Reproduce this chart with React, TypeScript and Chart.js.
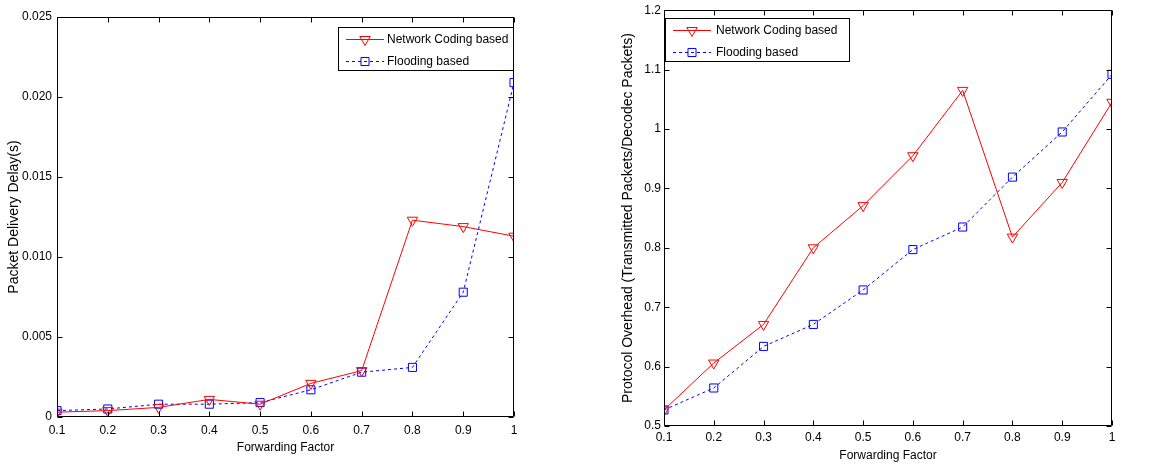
import React, { useEffect, useRef } from "react";
import { Chart, registerables } from "chart.js";

Chart.register(...registerables);

// ---- data ----
const forwardingFactor = [0.1, 0.2, 0.3, 0.4, 0.5, 0.6, 0.7, 0.8, 0.9, 1.0];
const xTickLabels = ["0.1", "0.2", "0.3", "0.4", "0.5", "0.6", "0.7", "0.8", "0.9", "1"];

const delayNetworkCoding = [0.0003, 0.0004, 0.0006, 0.0011, 0.0008, 0.0021, 0.0029, 0.0123, 0.0119, 0.0113];
const delayFlooding = [0.0004, 0.0005, 0.0008, 0.0008, 0.0009, 0.0017, 0.0028, 0.0031, 0.0078, 0.0209];
const delayTicks = [0, 0.005, 0.01, 0.015, 0.02, 0.025];
const delayTickLabels = ["0", "0.005", "0.010", "0.015", "0.020", "0.025"];

const overheadNetworkCoding = [0.527, 0.606, 0.671, 0.8, 0.871, 0.955, 1.065, 0.818, 0.91, 1.045];
const overheadFlooding = [0.527, 0.564, 0.634, 0.671, 0.729, 0.797, 0.835, 0.919, 0.995, 1.092];
const overheadTicks = [0.5, 0.6, 0.7, 0.8, 0.9, 1.0, 1.1, 1.2];
const overheadTickLabels = ["0.5", "0.6", "0.7", "0.8", "0.9", "1", "1.1", "1.2"];

const seriesLabels = ["Network Coding based", "Flooding based"];

// ---- styling ----
const FONT = '"Liberation Sans", Arial, Helvetica, sans-serif';
const tickFont = { family: FONT, size: 12 };
const vTitleFont = { family: FONT, size: 14 };
const RED = "#ff0000";
const BLUE = "#0000ff";

function drawMarker(ctx: CanvasRenderingContext2D, style: string, x: number, y: number, r: number, color: string) {
  ctx.save();
  ctx.setLineDash([]);
  ctx.strokeStyle = color;
  ctx.lineWidth = 1;
  ctx.beginPath();
  if (style === "triangle") {
    const h = r * 0.866;
    ctx.moveTo(x - h, y - r / 2);
    ctx.lineTo(x + h, y - r / 2);
    ctx.lineTo(x, y + r);
    ctx.closePath();
  } else {
    const s = r * Math.SQRT1_2;
    ctx.rect(x - s, y - s, 2 * s, 2 * s);
  }
  ctx.stroke();
  ctx.restore();
}

const framePlugin = {
  id: "matlabFrame",
  afterDatasetsDraw(chart: any) {
    const { ctx, chartArea, scales } = chart;
    const L = Math.round(chartArea.left) + 0.5;
    const R = Math.round(chartArea.right) - 0.5;
    const T = Math.round(chartArea.top) + 0.5;
    const B = Math.round(chartArea.bottom) - 0.5;
    const tl = 5;
    ctx.save();
    ctx.strokeStyle = "#000";
    ctx.lineWidth = 1;
    ctx.setLineDash([]);
    ctx.beginPath();
    ctx.rect(L, T, R - L, B - T);
    for (const t of scales.x.ticks) {
      const px = Math.round(scales.x.getPixelForValue(t.value)) + 0.5;
      ctx.moveTo(px, B);
      ctx.lineTo(px, B - tl);
      ctx.moveTo(px, T);
      ctx.lineTo(px, T + tl);
    }
    for (const t of scales.y.ticks) {
      const py = Math.round(scales.y.getPixelForValue(t.value)) + 0.5;
      ctx.moveTo(L, py);
      ctx.lineTo(L + tl, py);
      ctx.moveTo(R, py);
      ctx.lineTo(R - tl, py);
    }
    ctx.stroke();
    ctx.restore();
  },
};

const boxLegendPlugin = {
  id: "boxLegend",
  afterDraw(chart: any, _args: any, opts: any) {
    const { ctx, chartArea } = chart;
    const w = opts.width;
    const h = opts.height;
    const left = Math.round(opts.anchor === "right" ? chartArea.right - w : chartArea.left + opts.dx);
    const top = Math.round(chartArea.top + opts.dy);
    ctx.save();
    ctx.fillStyle = "#fff";
    ctx.fillRect(left, top, w, h);
    ctx.strokeStyle = "#000";
    ctx.lineWidth = 1;
    ctx.setLineDash([]);
    ctx.strokeRect(left + 0.5, top + 0.5, w - 1, h - 1);
    const rows = [12.5, 34.5];
    chart.data.datasets.forEach((ds: any, i: number) => {
      const y = top + rows[i];
      ctx.strokeStyle = ds.borderColor;
      ctx.lineWidth = 1;
      ctx.setLineDash(ds.borderDash || []);
      ctx.beginPath();
      ctx.moveTo(left + 8, y);
      ctx.lineTo(left + 46, y);
      ctx.stroke();
      drawMarker(ctx, ds.pointStyle, left + 27, y, ds.pointRadius, ds.borderColor);
      ctx.fillStyle = "#000";
      ctx.font = `12px ${FONT}`;
      ctx.textBaseline = "middle";
      ctx.textAlign = "left";
      ctx.fillText(ds.label, left + opts.textX, y);
    });
    ctx.restore();
  },
};

function makeDatasets(a: number[], b: number[]) {
  return [
    {
      label: seriesLabels[0],
      data: forwardingFactor.map((x, i) => ({ x, y: a[i] })),
      borderColor: RED,
      backgroundColor: "rgba(0,0,0,0)",
      borderWidth: 1,
      pointStyle: "triangle",
      rotation: 180,
      pointRadius: 6,
      pointBorderWidth: 1,
      pointBackgroundColor: "rgba(0,0,0,0)",
      pointBorderColor: RED,
      tension: 0,
    },
    {
      label: seriesLabels[1],
      data: forwardingFactor.map((x, i) => ({ x, y: b[i] })),
      borderColor: BLUE,
      backgroundColor: "rgba(0,0,0,0)",
      borderWidth: 1,
      borderDash: [3, 3],
      pointStyle: "rect",
      pointRadius: 5.7,
      pointBorderWidth: 1,
      pointBackgroundColor: "rgba(0,0,0,0)",
      pointBorderColor: BLUE,
      tension: 0,
    },
  ];
}

interface PanelSpec {
  a: number[];
  b: number[];
  yMin: number;
  yMax: number;
  yTicks: number[];
  yTickLabels: string[];
  yTitle: string;
  padding: { left: number; top: number; right: number; bottom: number };
  yWidth: number;
  xHeight: number;
  yTickPad: number;
  yTitlePad: number;
  xTickPad: number;
  xTitlePad: number;
  legend: any;
}

function makeConfig(p: PanelSpec): any {
  return {
    type: "line",
    data: { datasets: makeDatasets(p.a, p.b) },
    options: {
      responsive: false,
      animation: false,
      devicePixelRatio: 1,
      layout: { padding: p.padding },
      plugins: {
        legend: { display: false },
        tooltip: { enabled: false },
        boxLegend: p.legend,
      },
      scales: {
        x: {
          type: "linear",
          min: 0.1,
          max: 1,
          afterBuildTicks: (s: any) => {
            s.ticks = forwardingFactor.map((v) => ({ value: v }));
          },
          afterFit: (s: any) => {
            s.height = p.xHeight;
          },
          grid: { display: false, drawTicks: false, tickLength: 0 },
          border: { display: false },
          ticks: {
            autoSkip: false,
            maxRotation: 0,
            padding: p.xTickPad,
            color: "#000",
            font: tickFont,
            callback: (_v: any, i: number) => xTickLabels[i],
          },
          title: {
            display: true,
            text: "Forwarding Factor",
            color: "#000",
            font: tickFont,
            padding: { top: 0, bottom: p.xTitlePad },
          },
        },
        y: {
          type: "linear",
          min: p.yMin,
          max: p.yMax,
          afterBuildTicks: (s: any) => {
            s.ticks = p.yTicks.map((v) => ({ value: v }));
          },
          afterFit: (s: any) => {
            s.width = p.yWidth;
          },
          grid: { display: false, drawTicks: false, tickLength: 0 },
          border: { display: false },
          ticks: {
            autoSkip: false,
            padding: p.yTickPad,
            color: "#000",
            font: tickFont,
            callback: (_v: any, i: number) => p.yTickLabels[i],
          },
          title: {
            display: true,
            text: p.yTitle,
            color: "#000",
            font: vTitleFont,
            padding: { top: p.yTitlePad, bottom: 0 },
          },
        },
      },
    },
    plugins: [framePlugin, boxLegendPlugin],
  };
}

function Panel({ left, width, spec }: { left: number; width: number; spec: PanelSpec }) {
  const ref = useRef<HTMLCanvasElement>(null);
  useEffect(() => {
    const chart = new Chart(ref.current as HTMLCanvasElement, makeConfig(spec));
    return () => chart.destroy();
  }, []);
  return (
    <canvas
      ref={ref}
      width={width}
      height={464}
      style={{ position: "absolute", left, top: 0, width, height: 464 }}
    />
  );
}

const leftSpec: PanelSpec = {
  a: delayNetworkCoding,
  b: delayFlooding,
  yMin: 0,
  yMax: 0.025,
  yTicks: delayTicks,
  yTickLabels: delayTickLabels,
  yTitle: "Packet Delivery Delay(s)",
  padding: { left: 0, top: 17, right: 76, bottom: 0 },
  yWidth: 57,
  xHeight: 47,
  yTickPad: 5,
  yTitlePad: 6,
  xTickPad: 6,
  xTitlePad: 9,
  legend: { anchor: "right", dx: 0, dy: 10, width: 176, height: 44, textX: 49 },
};

const rightSpec: PanelSpec = {
  a: overheadNetworkCoding,
  b: overheadFlooding,
  yMin: 0.5,
  yMax: 1.2,
  yTicks: overheadTicks,
  yTickLabels: overheadTickLabels,
  yTitle: "Protocol Overhead (Transmitted Packets/Decodec Packets)",
  padding: { left: 0, top: 10, right: 57, bottom: 0 },
  yWidth: 74,
  xHeight: 38,
  yTickPad: 3,
  yTitlePad: 30,
  xTickPad: 4,
  xTitlePad: 1,
  legend: { anchor: "left", dx: 1, dy: 7.5, width: 185, height: 44, textX: 51 },
};

export default function App() {
  return (
    <div
      style={{
        position: "fixed",
        left: 0,
        top: 0,
        width: 1169,
        height: 464,
        background: "#fff",
        overflow: "hidden",
      }}
    >
      <Panel left={0} width={590} spec={leftSpec} />
      <Panel left={590} width={579} spec={rightSpec} />
    </div>
  );
}
